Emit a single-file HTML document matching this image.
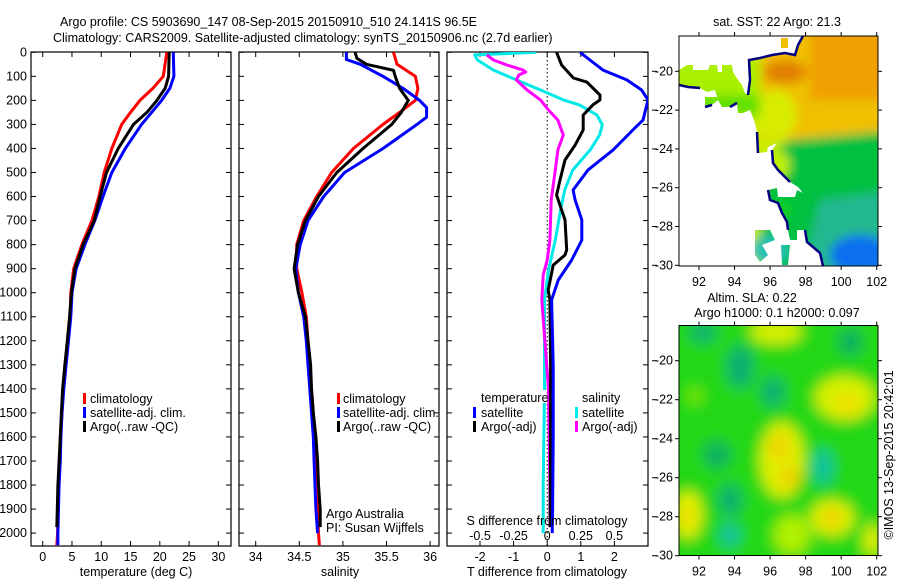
<!DOCTYPE html>
<html><head><meta charset="utf-8">
<style>
html,body{margin:0;padding:0;background:#fff;}
svg{display:block;font-family:"Liberation Sans",sans-serif;font-size:12.5px;}
</style></head>
<body>
<svg id="chart" width="900" height="580" viewBox="0 0 900 580">
<defs>
  <filter id="blur1" x="-20%" y="-20%" width="140%" height="140%"><feGaussianBlur stdDeviation="5"/></filter>
  <filter id="blur2" x="-20%" y="-20%" width="140%" height="140%"><feGaussianBlur stdDeviation="7"/></filter>
  <clipPath id="mapclip1"><rect x="679" y="36" width="199" height="230"/></clipPath>
  <clipPath id="mapclip2"><rect x="679" y="325" width="199" height="231"/></clipPath>
  <clipPath id="p1c"><rect x="31" y="52" width="200" height="494"/></clipPath>
  <clipPath id="p2c"><rect x="239" y="52" width="200" height="494"/></clipPath>
  <clipPath id="p3c"><rect x="447" y="52" width="201" height="494"/></clipPath>
</defs>
<g>
  <text x="60" y="26">Argo profile: CS 5903690_147 08-Sep-2015 20150910_510 24.141S 96.5E</text>
  <text x="53" y="42">Climatology: CARS2009. Satellite-adjusted climatology: synTS_20150906.nc (2.7d earlier)</text>
</g>
<g id="maps"></g>
<g id="panels"></g>
</svg>
<script>
// ---------- data ----------
const tempDepths = [0,100,150,200,250,300,400,500,600,700,800,900,1000,1100,1200,1300,1400,1500,1600,1700,1800,1900,2000,2050];
const tempClim   = [21.2,20.6,18.8,16.6,15.0,13.5,11.8,10.5,9.6,8.4,6.7,5.3,4.8,4.7,4.3,3.8,3.5,3.3,3.0,2.9,2.7,2.6,2.55,2.4];
const tempSat    = [22.3,22.4,21.7,20.3,18.6,16.9,14.1,11.8,10.3,8.9,7.2,5.7,5.0,4.8,4.4,4.0,3.6,3.3,3.1,3.0,2.8,2.7,2.6,2.6];
const argoDepths = [0,100,150,200,250,300,400,500,600,700,800,900,1000,1100,1200,1300,1400,1500,1600,1700,1800,1900,1975];
const tempArgo   = [21.6,21.5,20.9,19.5,17.8,15.5,12.9,10.9,9.8,8.8,6.9,5.5,4.9,4.6,4.2,3.8,3.4,3.2,3.0,2.8,2.6,2.5,2.4];

const salDepths  = [0,50,100,150,200,250,300,400,500,600,700,800,900,1000,1100,1200,1300,1400,1500,1600,1700,1800,1900,2000,2050];
const salClim    = [35.58,35.62,35.83,35.86,35.83,35.65,35.46,35.12,34.87,34.70,34.55,34.47,34.47,34.53,34.58,34.60,34.62,34.64,34.66,34.68,34.69,34.70,34.71,34.72,34.73];
const salSatDepths = [0,30,50,100,150,200,230,270,300,400,500,600,700,800,900,1000,1100,1200,1300,1400,1500,1600,1700,1800,1900,2000];
const salSat     = [35.04,35.04,35.20,35.46,35.69,35.88,35.96,35.96,35.85,35.46,35.02,34.78,34.60,34.51,34.46,34.49,34.55,34.58,34.60,34.62,34.64,34.66,34.67,34.68,34.69,34.71];
const salArgoDepths = [0,25,50,75,100,150,200,250,300,400,500,600,700,800,900,1000,1100,1200,1300,1400,1500,1600,1700,1800,1900,1975];
const salArgo    = [35.14,35.16,35.27,35.58,35.60,35.65,35.75,35.67,35.56,35.23,34.93,34.72,34.57,34.48,34.44,34.49,34.57,34.60,34.63,34.64,34.66,34.69,34.71,34.72,34.74,34.74];

const dTSatDepths = [0,32,74,115,157,198,282,323,406,490,573,614,697,781,864,947,1030,1300,1600,1900,2000];
const dTSat       = [0.98,1.27,1.66,2.37,2.81,3.0,2.85,2.55,1.96,1.21,0.77,0.83,1.03,1.03,0.73,0.33,0.13,0.18,0.18,0.16,0.15];
const dTArgoDepths = [0,53,107,124,157,178,198,219,261,323,386,448,531,594,697,822,843,885,989,1030,1300,1600,1900,1975];
const dTArgo       = [0.28,0.43,0.78,1.18,1.42,1.57,1.57,1.36,1.07,1.07,0.83,0.53,0.38,0.28,0.53,0.58,0.53,0.18,0.03,0.08,0.10,0.10,0.09,0.09];
const dSSatDepths = [0,11,32,74,115,157,198,219,261,302,344,406,490,573,656,781,906,1030,1400,1800,2000];
const dSSat       = [-0.08,-0.54,-0.52,-0.40,-0.23,-0.05,0.12,0.24,0.37,0.41,0.39,0.32,0.19,0.13,0.10,0.06,0.01,-0.02,-0.02,-0.03,-0.03];
const dSArgoDepths = [11,32,53,74,82,94,115,157,198,240,282,344,406,490,614,781,864,926,1030,1400,1800,1975];
const dSArgo       = [-0.45,-0.40,-0.30,-0.18,-0.16,-0.21,-0.23,-0.15,-0.05,0.01,0.08,0.12,0.08,0.06,0.03,0.02,0.00,-0.03,-0.04,0.01,0.02,0.02];

const depthTicks = [0,100,200,300,400,500,600,700,800,900,1000,1100,1200,1300,1400,1500,1600,1700,1800,1900,2000];
const tempTicks = [0,5,10,15,20,25,30];
const salTicks = [34,34.5,35,35.5,36];
const salTickLabels = ["34","34.5","35","35.5","36"];
const dTTicks = [-2,-1,0,1,2];
const dSTicks = [-0.5,-0.25,0,0.25,0.5];
const dSTickLabels = ["-0.5","-0.25","0","0.25","0.5"];
const lonTicks = [92,94,96,98,100,102];
const latTicks = [-20,-22,-24,-26,-28,-30];

// ---------- scales ----------
const yD = d => 52.3 + d*0.2404;
const xT = t => 42.7 + t*5.855;
const xS = s => 255.7 + (s-34)*87.2;
const xdT = t => 547.2 + t*33.6;
const xdS = s => 547.2 + s*134.3;
const lonX = l => 699 + (l-92)*17.77;
const latY1 = l => 71.3 + (-20-l)*19.4;
const latY2 = l => 360.7 + (-20-l)*19.5;

const NS='http://www.w3.org/2000/svg';
function mk(tag, attrs, parent, text){
  const e=document.createElementNS(NS,tag);
  for(const k in attrs) e.setAttribute(k,attrs[k]);
  if(text!==undefined) e.textContent=text;
  parent.appendChild(e); return e;
}
const panels=document.getElementById('panels');
const maps=document.getElementById('maps');

function profile(parent, depths, vals, xf, color, name){
  let d='';
  for(let i=0;i<depths.length;i++){ d+=(i?'L':'M')+xf(vals[i]).toFixed(1)+' '+yD(depths[i]).toFixed(1); }
  const p=mk('path',{d:d,fill:'none',stroke:color,'stroke-width':3,'stroke-linejoin':'round'},parent);
  
  
}

function frame(x0,x1,name){
  const g=mk('g',{},panels);
  
  
  mk('rect',{x:x0,y:52,width:x1-x0,height:494,fill:'none',stroke:'#000','stroke-width':1.2},g);
  depthTicks.forEach(d=>{
    mk('line',{x1:x0,x2:x0+5,y1:yD(d),y2:yD(d),stroke:'#000'},g);
    mk('line',{x1:x1-5,x2:x1,y1:yD(d),y2:yD(d),stroke:'#000'},g);
  });
  return g;
}

// ---------- panel 1 ----------
const g1=frame(31,231,'temperature-panel');
depthTicks.forEach(d=>{
  const t=mk('text',{x:27,y:yD(d)+4,'text-anchor':'end'},g1,String(d));
  
  
});
tempTicks.forEach(v=>{
  mk('line',{x1:xT(v),x2:xT(v),y1:52,y2:57,stroke:'#000'},g1);
  mk('line',{x1:xT(v),x2:xT(v),y1:541,y2:546,stroke:'#000'},g1);
  const t=mk('text',{x:xT(v),y:561,'text-anchor':'middle'},g1,String(v));
  
  
});
const gp1=mk('g',{'clip-path':'url(#p1c)'},g1);
profile(gp1,tempDepths,tempClim,xT,'#ff0000','temp-climatology-line');
profile(gp1,tempDepths,tempSat,xT,'#0000ff','temp-satellite-line');
profile(gp1,argoDepths,tempArgo,xT,'#000000','temp-argo-line');

// ---------- panel 2 ----------
const g2=frame(239,439,'salinity-panel');
salTicks.forEach((v,i)=>{
  mk('line',{x1:xS(v),x2:xS(v),y1:52,y2:57,stroke:'#000'},g2);
  mk('line',{x1:xS(v),x2:xS(v),y1:541,y2:546,stroke:'#000'},g2);
  const t=mk('text',{x:xS(v),y:561,'text-anchor':'middle'},g2,salTickLabels[i]);
  
  
});
const gp2=mk('g',{'clip-path':'url(#p2c)'},g2);
profile(gp2,salDepths,salClim,xS,'#ff0000','sal-climatology-line');
profile(gp2,salSatDepths,salSat,xS,'#0000ff','sal-satellite-line');
profile(gp2,salArgoDepths,salArgo,xS,'#000000','sal-argo-line');

// ---------- panel 3 ----------
const g3=frame(447,648,'difference-panel');
mk('line',{x1:xdT(0),x2:xdT(0),y1:52,y2:546,stroke:'#000','stroke-width':1,'stroke-dasharray':'1.5 2.5'},g3);
dTTicks.forEach(v=>{
  mk('line',{x1:xdT(v),x2:xdT(v),y1:52,y2:57,stroke:'#000'},g3);
  mk('line',{x1:xdT(v),x2:xdT(v),y1:541,y2:546,stroke:'#000'},g3);
  const t=mk('text',{x:xdT(v),y:561,'text-anchor':'middle'},g3,String(v));
  
  
});
dSTicks.forEach((v,i)=>{
  const t=mk('text',{x:xdS(v),y:540,'text-anchor':'middle'},g3,dSTickLabels[i]);
  
  
});
const gp3=mk('g',{'clip-path':'url(#p3c)'},g3);
profile(gp3,dSSatDepths,dSSat,xdS,'#00e8e8','s-diff-satellite-line');
profile(gp3,dSArgoDepths,dSArgo,xdS,'#ff00ff','s-diff-argo-line');
profile(gp3,dTArgoDepths,dTArgo,xdT,'#000000','t-diff-argo-line');
profile(gp3,dTSatDepths,dTSat,xdT,'#0000ff','t-diff-satellite-line');

// outside map lat ticks
latTicks.forEach(l=>{
  mk('line',{x1:652,x2:657,y1:latY1(l),y2:latY1(l),stroke:'#000'},panels);
  mk('line',{x1:652,x2:657,y1:latY2(l),y2:latY2(l),stroke:'#000'},panels);
});

// ---------- maps ----------
function mapAxes(yf, top, name){
  const g=mk('g',{},maps);
  
  
  mk('rect',{x:679,y:top,width:199,height:230,fill:'none',stroke:'#000','stroke-width':1},g);
  latTicks.forEach(l=>{
    mk('line',{x1:675,x2:679,y1:yf(l),y2:yf(l),stroke:'#000'},g);
    mk('line',{x1:878,x2:882,y1:yf(l),y2:yf(l),stroke:'#000'},g);
    mk('text',{x:673,y:yf(l)+4,'text-anchor':'end'},g,String(l));
  });
  lonTicks.forEach(l=>{
    mk('line',{x1:lonX(l),x2:lonX(l),y1:top-4,y2:top,stroke:'#000'},g);
    mk('line',{x1:lonX(l),x2:lonX(l),y1:top+230,y2:top+234,stroke:'#000'},g);
    mk('text',{x:lonX(l),y:top+250,'text-anchor':'middle'},g,String(l));
  });
}
</script>
<script>
(function(){
  const NS='http://www.w3.org/2000/svg';
  const maps=document.getElementById('maps');
  const g=document.createElementNS(NS,'g');
  
  
  g.innerHTML=`
  <clipPath id="sstshape"><path d="M803,36 L878,36 L878,266 L823,266 L820,253 L813,247 L807,242 L805,230 L797,230 L797,240 L790,240 L788,230 L787,222 L782,213 L778,203 L770,200 L768,190 L777,188 L778,197 L795,197 L797,190 L803,193 L798,187 L790,182 L785,177 L778,170 L773,163 L772,150 L777,143 L768,147 L767,152 L758,153 L757,132 L755,123 L752,115 L750,110 L743,113 L738,113 L737,103 L730,107 L722,107 L718,100 L712,105 L705,107 L705,97 L717,97 L715,90 L707,92 L700,88 L688,87 L679,85 L679,70 L687,65 L693,65 L693,70 L708,70 L710,65 L717,65 L718,72 L722,72 L722,65 L732,65 L733,72 L738,80 L742,85 L745,93 L748,95 L750,80 L749,60 L760,58 L772,55 L785,53 L795,55 L798,45 Z M755,230 L770,230 L775,240 L762,245 L768,255 L760,262 L755,255 Z M781,245 L790,245 L788,265 L782,265 Z M781,38 L788,38 L788,48 L781,48 Z"/></clipPath>
  <g clip-path="url(#mapclip1)">
   <g clip-path="url(#sstshape)">
    <g filter="url(#blur1)">
     <rect x="660" y="20" width="240" height="260" fill="#c8ec00"/>
     <rect x="760" y="20" width="140" height="120" fill="#f0c000"/>
     <rect x="810" y="20" width="90" height="80" fill="#f0a000"/>
     <ellipse cx="785" cy="72" rx="22" ry="12" fill="#e08000"/>
     <ellipse cx="775" cy="115" rx="22" ry="25" fill="#d8ec00"/>
     <rect x="660" y="60" width="100" height="60" fill="#a8f000"/>
     <rect x="690" y="95" width="70" height="20" fill="#60e000"/>
     <polygon points="790,140 900,130 900,280 760,280 760,180 775,150" fill="#00c040"/>
     <ellipse cx="775" cy="165" rx="15" ry="15" fill="#c0f000"/>
     <ellipse cx="778" cy="210" rx="15" ry="10" fill="#10d020"/>
     <polygon points="820,200 900,190 900,280 800,280" fill="#20b890"/>
     <ellipse cx="860" cy="255" rx="30" ry="20" fill="#1070f0"/>
     <ellipse cx="770" cy="250" rx="20" ry="15" fill="#20c0b0"/>
    </g>
   </g>
   <path d="M803,36 L798,45 L795,55 L785,53 L772,55 L760,58 L749,60 L750,80 L748,95 M757,132 L758,153 M772,150 L773,163 L778,170 L785,177 L790,182 M768,190 L770,200 L778,203 L782,213 L787,222 L788,230 M805,230 L807,242 L813,247 L820,253 L823,266 M679,85 L688,87 L700,88 M705,107 L712,105 M730,107 L737,103" fill="none" stroke="#000080" stroke-width="2.5"/>
  </g>`;
  maps.appendChild(g);

  const g2=document.createElementNS(NS,'g');
  
  
  g2.innerHTML=`
  <g clip-path="url(#mapclip2)">
   <g filter="url(#blur2)">
    <rect x="660" y="310" width="240" height="260" fill="#20d818"/>
    <ellipse cx="740" cy="367" rx="14" ry="22" fill="#10b070"/>
    <ellipse cx="773" cy="392" rx="12" ry="16" fill="#10b070"/>
    <ellipse cx="703" cy="333" rx="14" ry="10" fill="#10b070"/>
    <ellipse cx="850" cy="342" rx="12" ry="14" fill="#10b060"/>
    <ellipse cx="717" cy="455" rx="14" ry="14" fill="#10b060"/>
    <ellipse cx="730" cy="500" rx="12" ry="16" fill="#10b070"/>
    <ellipse cx="730" cy="535" rx="10" ry="12" fill="#10c0a0"/>
    <ellipse cx="823" cy="467" rx="10" ry="18" fill="#10c0a0"/>
    <ellipse cx="776" cy="332" rx="26" ry="12" fill="#d8f000"/>
    <ellipse cx="845" cy="398" rx="30" ry="22" fill="#d8f000"/>
    <ellipse cx="848" cy="405" rx="12" ry="12" fill="#f0e000"/>
    <ellipse cx="782" cy="460" rx="22" ry="38" fill="#e0f000"/>
    <ellipse cx="779" cy="447" rx="10" ry="12" fill="#f0d000"/>
    <ellipse cx="790" cy="477" rx="10" ry="12" fill="#f0d000"/>
    <ellipse cx="832" cy="518" rx="22" ry="18" fill="#e0f000"/>
    <ellipse cx="832" cy="518" rx="10" ry="9" fill="#f0d000"/>
    <ellipse cx="688" cy="515" rx="14" ry="24" fill="#e8f000"/>
    <ellipse cx="686" cy="517" rx="6" ry="10" fill="#f0d800"/>
    <ellipse cx="792" cy="535" rx="18" ry="20" fill="#b0f000"/>
    <ellipse cx="872" cy="540" rx="8" ry="16" fill="#e8f000"/>
    <ellipse cx="695" cy="396" rx="8" ry="8" fill="#80e800"/>
   </g>
  </g>`;
  maps.appendChild(g2);

  mapAxes(latY1, 36, 'sst-map-axes');
  mapAxes(latY2, 325.5, 'sla-map-axes');
})();
</script>
<svg style="position:absolute;left:0;top:0" width="900" height="580">
 <g font-family="Liberation Sans, sans-serif" font-size="12.5">
  <text x="136" y="576" text-anchor="middle">temperature (deg C)</text>
  <text x="340" y="576" text-anchor="middle">salinity</text>
  <text x="547" y="576" text-anchor="middle">T difference from climatology</text>
  <text x="547" y="525" text-anchor="middle">S difference from climatology</text>

  <g>
   <rect x="83" y="393" width="3" height="11" fill="#f00"/><text x="90" y="403">climatology</text>
   <rect x="83" y="407" width="3" height="11" fill="#00f"/><text x="90" y="417">satellite-adj. clim.</text>
   <rect x="83" y="421" width="3" height="11" fill="#000"/><text x="90" y="431">Argo(..raw -QC)</text>
  </g>
  <g>
   <rect x="337" y="393" width="3" height="11" fill="#f00"/><text x="343" y="403">climatology</text>
   <rect x="337" y="407" width="3" height="11" fill="#00f"/><text x="343" y="417">satellite-adj. clim.</text>
   <rect x="337" y="421" width="3" height="11" fill="#000"/><text x="343" y="431">Argo(..raw -QC)</text>
  </g>
  <g>
   <text x="326" y="518">Argo Australia</text>
   <text x="326" y="532">PI: Susan Wijffels</text>
  </g>
  <g>
   <rect x="448" y="390" width="98" height="13" fill="#fff"/>
   <text x="481" y="402">temperature</text>
   <rect x="473" y="407" width="3" height="11" fill="#00f"/><text x="481" y="417">satellite</text>
   <rect x="473" y="421" width="3" height="11" fill="#000"/><text x="481" y="431">Argo(-adj)</text>
   <text x="582" y="402">salinity</text>
   <rect x="575" y="407" width="3" height="11" fill="#0ee"/><text x="582" y="417">satellite</text>
   <rect x="575" y="421" width="3" height="11" fill="#f0f"/><text x="582" y="431">Argo(-adj)</text>
  </g>
  <text x="777" y="26" text-anchor="middle">sat. SST: 22 Argo: 21.3</text>
  <text x="752" y="302" text-anchor="middle">Altim. SLA: 0.22</text>
  <text x="777" y="317" text-anchor="middle">Argo h1000: 0.1 h2000: 0.097</text>
  <text transform="translate(893,455) rotate(-90)" text-anchor="middle">©IMOS 13-Sep-2015 20:42:01</text>
 </g>
</svg>
</body></html>
